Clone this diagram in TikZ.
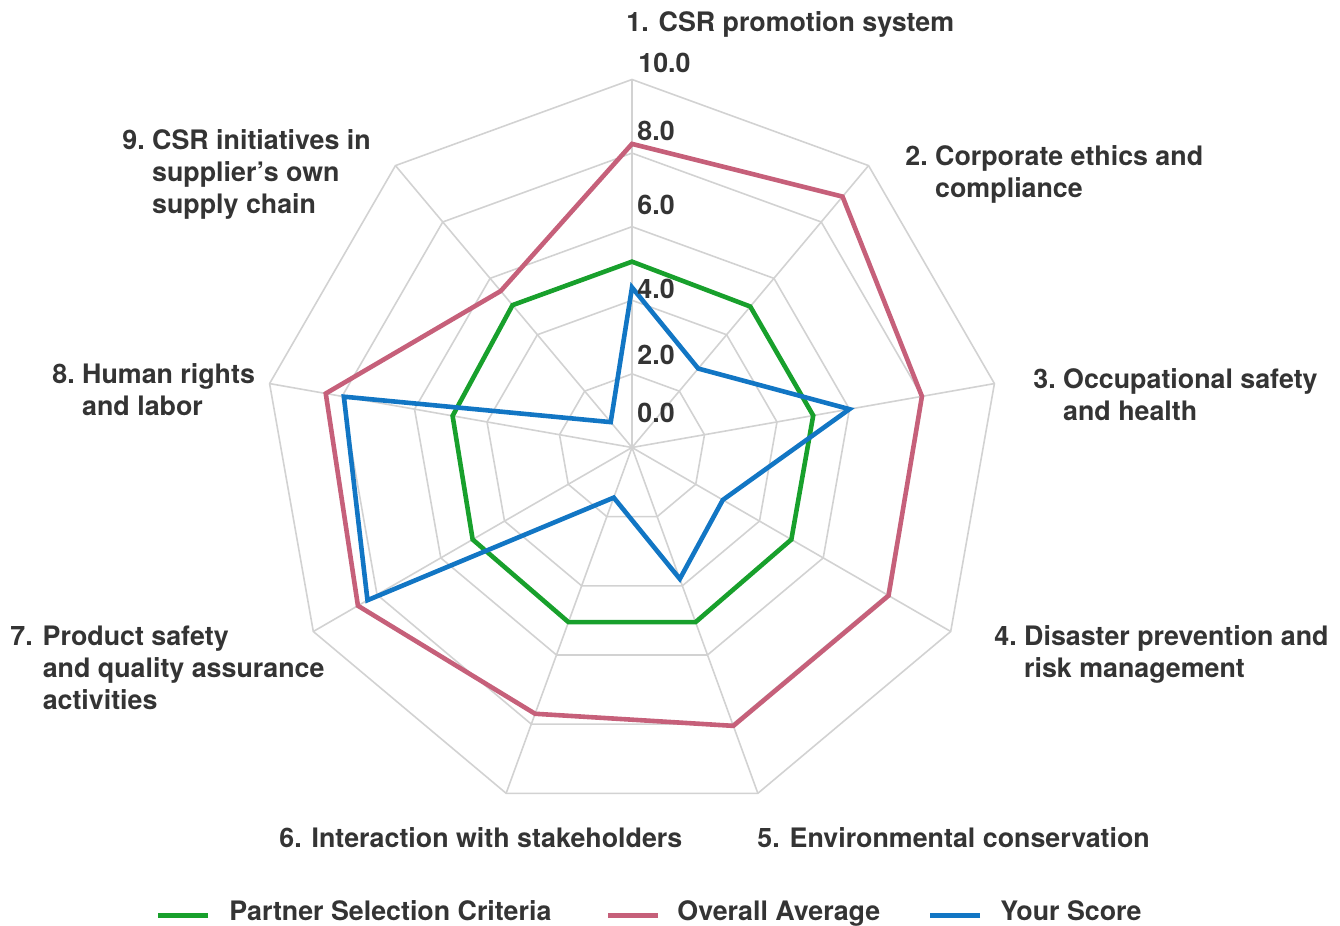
\documentclass[tikz,border=0pt]{standalone}
\usepackage{fontspec}
\setmainfont{TeX Gyre Heros}
\usepackage{xcolor}
\usepackage{tikz}
\usetikzlibrary{positioning}
\definecolor{gridcolor}{RGB}{210,210,210}
\definecolor{txtcolor}{RGB}{52,52,52}
\definecolor{critcolor}{RGB}{24,160,44}
\definecolor{avgcolor}{RGB}{198,96,122}
\definecolor{scorecolor}{RGB}{18,118,196}

\begin{document}
\begin{tikzpicture}[x=0.5pt, y=0.5pt,
    font=\fontsize{13.4}{16}\selectfont\bfseries,
    gridline/.style={draw=gridcolor, line width=0.8pt},
    dataline/.style={line width=2.3pt, line join=miter},
    legline/.style={line width=2.5pt},
    lbl/.style={text=txtcolor, inner sep=0pt, anchor=base west}]
    \useasboundingbox (0,0) rectangle (1340,926);
    \begin{scope}[shift={(632,478.5)}]
        % rings and spokes
        \foreach \r in {2,4,...,10}
            \draw[gridline] (90:{\r*36.8}) \foreach \k in {1,...,8} { -- ({90-40*\k}:{\r*36.8}) } -- cycle;
        \foreach \k in {0,...,8}
            \draw[gridline] (0,0) -- ({90-40*\k}:368);
        % scores
        \foreach \v [count=\k] in {5.05,5.0,5.0,5.0,5.05,5.05,5.0,4.95,5.05}
            \coordinate (crit\k) at ({130-40*\k}:{\v*36.8});
        \foreach \v [count=\k] in {8.25,8.9,8.0,8.05,8.05,7.7,8.6,8.45,5.55}
            \coordinate (avg\k) at ({130-40*\k}:{\v*36.8});
        \foreach \v [count=\k] in {4.35,2.8,6.0,2.85,3.8,1.45,8.3,7.95,0.9}
            \coordinate (score\k) at ({130-40*\k}:{\v*36.8});
        \draw[dataline, critcolor] (crit1) \foreach \k in {2,...,9} { -- (crit\k) } -- cycle;
        \draw[dataline, avgcolor] (avg1) \foreach \k in {2,...,9} { -- (avg\k) } -- cycle;
        \draw[dataline, scorecolor] (score1) \foreach \k in {2,...,9} { -- (score\k) } -- cycle;
    \end{scope}

    % scale
    \node[lbl] (tick10) at (638,853) {10.0};
    \node[lbl] (tick8) at (637,785) {8.0};
    \node[lbl] (tick6) at (637,711) {6.0};
    \node[lbl] (tick4) at (637,627) {4.0};
    \node[lbl] (tick2) at (637,561) {2.0};
    \node[lbl] (tick0) at (637,503) {0.0};

    % axis names
    \node[lbl] (lab1) at (626,894) {1. CSR promotion system};
    \node[lbl] (lab2) at (905,760) {\begin{tabular}[t]{@{}l@{\ }l@{}}2.&Corporate ethics and\\&compliance\end{tabular}};
    \node[lbl] (lab3) at (1033,537) {\begin{tabular}[t]{@{}l@{\ }l@{}}3.&Occupational safety\\&and health\end{tabular}};
    \node[lbl] (lab4) at (994,280) {\begin{tabular}[t]{@{}l@{\ }l@{}}4.&Disaster prevention and\\&risk management\end{tabular}};
    \node[lbl] (lab5) at (757,78) {5. Environmental conservation};
    \node[lbl] (lab6) at (279,78) {6. Interaction with stakeholders};
    \node[lbl] (lab7) at (10,280) {\begin{tabular}[t]{@{}l@{\hspace{5pt}}l@{}}7.&Product safety\\&and quality assurance\\&activities\end{tabular}};
    \node[lbl] (lab8) at (52,542) {\begin{tabular}[t]{@{}l@{\ }l@{}}8.&Human rights\\&and labor\end{tabular}};
    \node[lbl] (lab9) at (122,776) {\begin{tabular}[t]{@{}l@{\ }l@{}}9.&CSR initiatives in\\&supplier’s own\\&supply chain\end{tabular}};

    % legend
    \node[lbl] (legcrit) at (229,5) {Partner Selection Criteria};
    \node[lbl] (legavg) at (677,5) {Overall Average};
    \node[lbl] (legscore) at (1000,5) {Your Score};
    \draw[legline, critcolor] ([xshift=-10.5pt]legcrit.mid west) -- ++(-50,0);
    \draw[legline, avgcolor] ([xshift=-9.5pt]legavg.mid west) -- ++(-50,0);
    \draw[legline, scorecolor] ([xshift=-10pt]legscore.mid west) -- ++(-50,0);
\end{tikzpicture}
\end{document}
